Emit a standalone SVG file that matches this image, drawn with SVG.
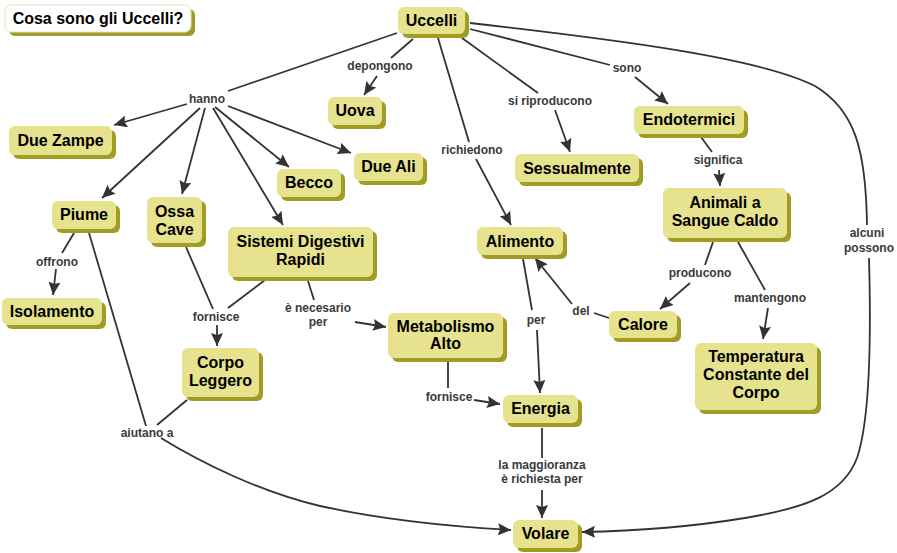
<svg xmlns="http://www.w3.org/2000/svg" width="897" height="553" viewBox="0 0 897 553">
<defs>
<style>
.sh{fill:#a19d24}
.nd{fill:#e6e28e}
.tt{fill:#ffffff;stroke:#e4e2c8;stroke-width:1}
.nt{font-family:"Liberation Sans",Arial,sans-serif;font-size:16px;font-weight:bold;fill:#000;text-anchor:middle}
.lb{font-family:"Liberation Sans",Arial,sans-serif;font-size:12px;font-weight:bold;fill:#3a3a3a;text-anchor:middle}
.ln{fill:none;stroke:#333;stroke-width:1.8}
.ar{fill:none;stroke:#333;stroke-width:1.8;marker-end:url(#ah)}
</style>
<marker id="ah" markerUnits="userSpaceOnUse" markerWidth="14" markerHeight="12" refX="13" refY="6" orient="auto">
<path d="M0,0 L13,6 L0,12 L2,6 z" fill="#333"/>
</marker>
</defs>
<rect width="897" height="553" fill="#fff"/>

<g id="connectors">
<line class="ln" x1="397" y1="33" x2="228" y2="91"/>
<line class="ar" x1="187" y1="104" x2="114" y2="125"/>
<line class="ar" x1="200" y1="108" x2="102" y2="198"/>
<line class="ar" x1="205" y1="108" x2="182" y2="194"/>
<line class="ar" x1="213" y1="108" x2="283" y2="225"/>
<line class="ar" x1="215" y1="107" x2="289" y2="167"/>
<line class="ar" x1="228" y1="106" x2="351" y2="153"/>

<line class="ln" x1="413" y1="39" x2="391" y2="58"/>
<line class="ar" x1="377" y1="76" x2="364" y2="95"/>

<line class="ln" x1="438" y1="38" x2="469" y2="142"/>
<line class="ar" x1="476" y1="159" x2="511" y2="225"/>

<line class="ln" x1="462" y1="38" x2="538" y2="93"/>
<line class="ar" x1="555" y1="110" x2="570" y2="152"/>

<line class="ln" x1="470" y1="29" x2="610" y2="65"/>
<line class="ar" x1="635" y1="77" x2="668" y2="104"/>

<path class="ln" d="M470,23 C620,40 760,58 815,86 C855,110 866,150 867,225"/>
<path class="ar" d="M869,258 C871,330 870,420 857,458 C843,495 805,508 745,518 C690,527 640,531 582,532"/>

<line class="ln" x1="701" y1="137" x2="712" y2="152"/>
<line class="ar" x1="719" y1="170" x2="720" y2="186"/>

<line class="ln" x1="713" y1="242" x2="705" y2="265"/>
<line class="ar" x1="690" y1="283" x2="660" y2="309"/>

<line class="ln" x1="738" y1="242" x2="765" y2="290"/>
<line class="ar" x1="768" y1="308" x2="763" y2="339"/>

<line class="ln" x1="609" y1="318" x2="594" y2="313"/>
<line class="ar" x1="572" y1="304" x2="535" y2="258"/>

<line class="ln" x1="523" y1="259" x2="532" y2="310"/>
<line class="ar" x1="537" y1="330" x2="540" y2="393"/>

<line class="ln" x1="542" y1="428" x2="542" y2="458"/>
<line class="ar" x1="542" y1="490" x2="542" y2="518"/>

<line class="ln" x1="448" y1="362" x2="448" y2="388"/>
<line class="ar" x1="474" y1="400" x2="500" y2="404"/>

<line class="ln" x1="308" y1="281" x2="314" y2="300"/>
<line class="ar" x1="355" y1="322" x2="386" y2="327"/>

<line class="ln" x1="186" y1="247" x2="213" y2="309"/>
<line class="ln" x1="265" y1="280" x2="228" y2="308"/>
<line class="ar" x1="217" y1="325" x2="217" y2="346"/>

<line class="ln" x1="74" y1="233" x2="62" y2="253"/>
<line class="ar" x1="56" y1="269" x2="53" y2="295"/>

<line class="ln" x1="89" y1="233" x2="146" y2="426"/>
<line class="ln" x1="187" y1="400" x2="157" y2="425"/>
<path class="ar" d="M161,438 C200,462 260,492 320,506 C370,517 440,526 511,530"/>

<text class="lb" x="207" y="103">hanno</text>
<text class="lb" x="380" y="70">depongono</text>
<text class="lb" x="472" y="154">richiedono</text>
<text class="lb" x="550" y="105">si riproducono</text>
<text class="lb" x="627" y="72">sono</text>
<text class="lb" x="718" y="164">significa</text>
<text class="lb" x="867" y="237">alcuni</text>
<text class="lb" x="869" y="252">possono</text>
<text class="lb" x="700" y="277">producono</text>
<text class="lb" x="770" y="302">mantengono</text>
<text class="lb" x="581" y="315">del</text>
<text class="lb" x="536" y="324">per</text>
<text class="lb" x="449" y="401">fornisce</text>
<text class="lb" x="542" y="469">la maggioranza</text>
<text class="lb" x="542" y="483">è richiesta per</text>
<text class="lb" x="318" y="312">è necesario</text>
<text class="lb" x="318" y="326">per</text>
<text class="lb" x="216" y="321">fornisce</text>
<text class="lb" x="57" y="266">offrono</text>
<text class="lb" x="147" y="437">aiutano a</text>
</g>

<g id="title"><rect class="sh" x="9" y="9" width="186" height="27" rx="6"/><rect class="tt" x="5" y="5" width="186" height="27" rx="6"/><text class="nt" x="98" y="24">Cosa sono gli Uccelli?</text></g>
<g id="uccelli"><rect class="sh" x="402" y="11" width="67" height="27" rx="6"/><rect class="nd" x="398" y="7" width="67" height="27" rx="6"/><text class="nt" x="431.5" y="26">Uccelli</text></g>
<g id="uova"><rect class="sh" x="332" y="101" width="54" height="28" rx="6"/><rect class="nd" x="328" y="97" width="54" height="28" rx="6"/><text class="nt" x="355" y="116">Uova</text></g>
<g id="duezampe"><rect class="sh" x="13" y="130" width="103" height="29" rx="6"/><rect class="nd" x="9" y="126" width="103" height="29" rx="6"/><text class="nt" x="60.5" y="146">Due Zampe</text></g>
<g id="becco"><rect class="sh" x="281" y="173" width="64" height="28" rx="6"/><rect class="nd" x="277" y="169" width="64" height="28" rx="6"/><text class="nt" x="309" y="188">Becco</text></g>
<g id="dueali"><rect class="sh" x="358" y="157" width="69" height="28" rx="6"/><rect class="nd" x="354" y="153" width="69" height="28" rx="6"/><text class="nt" x="388.5" y="172">Due Ali</text></g>
<g id="sessualmente"><rect class="sh" x="519" y="158" width="124" height="28" rx="6"/><rect class="nd" x="515" y="154" width="124" height="28" rx="6"/><text class="nt" x="577" y="174">Sessualmente</text></g>
<g id="endotermici"><rect class="sh" x="638" y="110" width="110" height="28" rx="6"/><rect class="nd" x="634" y="106" width="110" height="28" rx="6"/><text class="nt" x="689" y="125">Endotermici</text></g>
<g id="animali"><rect class="sh" x="667" y="192" width="124" height="50" rx="6"/><rect class="nd" x="663" y="188" width="124" height="50" rx="6"/><text class="nt" x="725" y="208">Animali a</text><text class="nt" x="725" y="226">Sangue Caldo</text></g>
<g id="piume"><rect class="sh" x="56" y="205" width="64" height="28" rx="6"/><rect class="nd" x="52" y="201" width="64" height="28" rx="6"/><text class="nt" x="84" y="220">Piume</text></g>
<g id="ossacave"><rect class="sh" x="151" y="201" width="55" height="46" rx="6"/><rect class="nd" x="147" y="197" width="55" height="46" rx="6"/><text class="nt" x="174.5" y="217">Ossa</text><text class="nt" x="174.5" y="235">Cave</text></g>
<g id="sistemi"><rect class="sh" x="232" y="231" width="145" height="50" rx="6"/><rect class="nd" x="228" y="227" width="145" height="50" rx="6"/><text class="nt" x="300.5" y="247">Sistemi Digestivi</text><text class="nt" x="300.5" y="265">Rapidi</text></g>
<g id="alimento"><rect class="sh" x="481" y="231" width="86" height="28" rx="6"/><rect class="nd" x="477" y="227" width="86" height="28" rx="6"/><text class="nt" x="520" y="247">Alimento</text></g>
<g id="isolamento"><rect class="sh" x="6" y="302" width="100" height="27" rx="6"/><rect class="nd" x="2" y="298" width="100" height="27" rx="6"/><text class="nt" x="52" y="317">Isolamento</text></g>
<g id="metabolismo"><rect class="sh" x="392" y="317" width="115" height="45" rx="6"/><rect class="nd" x="388" y="313" width="115" height="45" rx="6"/><text class="nt" x="445.5" y="332">Metabolismo</text><text class="nt" x="445.5" y="349">Alto</text></g>
<g id="calore"><rect class="sh" x="613" y="315" width="68" height="27" rx="6"/><rect class="nd" x="609" y="311" width="68" height="27" rx="6"/><text class="nt" x="643" y="330">Calore</text></g>
<g id="temperatura"><rect class="sh" x="699" y="347" width="122" height="67" rx="6"/><rect class="nd" x="695" y="343" width="122" height="67" rx="6"/><text class="nt" x="756" y="362">Temperatura</text><text class="nt" x="756" y="380">Constante del</text><text class="nt" x="756" y="398">Corpo</text></g>
<g id="corpoleggero"><rect class="sh" x="186" y="352" width="77" height="49" rx="6"/><rect class="nd" x="182" y="348" width="77" height="49" rx="6"/><text class="nt" x="220.5" y="368">Corpo</text><text class="nt" x="220.5" y="386">Leggero</text></g>
<g id="energia"><rect class="sh" x="507" y="399" width="75" height="28" rx="6"/><rect class="nd" x="503" y="395" width="75" height="28" rx="6"/><text class="nt" x="540.5" y="414">Energia</text></g>
<g id="volare"><rect class="sh" x="517" y="524" width="65" height="28" rx="6"/><rect class="nd" x="513" y="520" width="65" height="28" rx="6"/><text class="nt" x="545.5" y="539">Volare</text></g>
</svg>
